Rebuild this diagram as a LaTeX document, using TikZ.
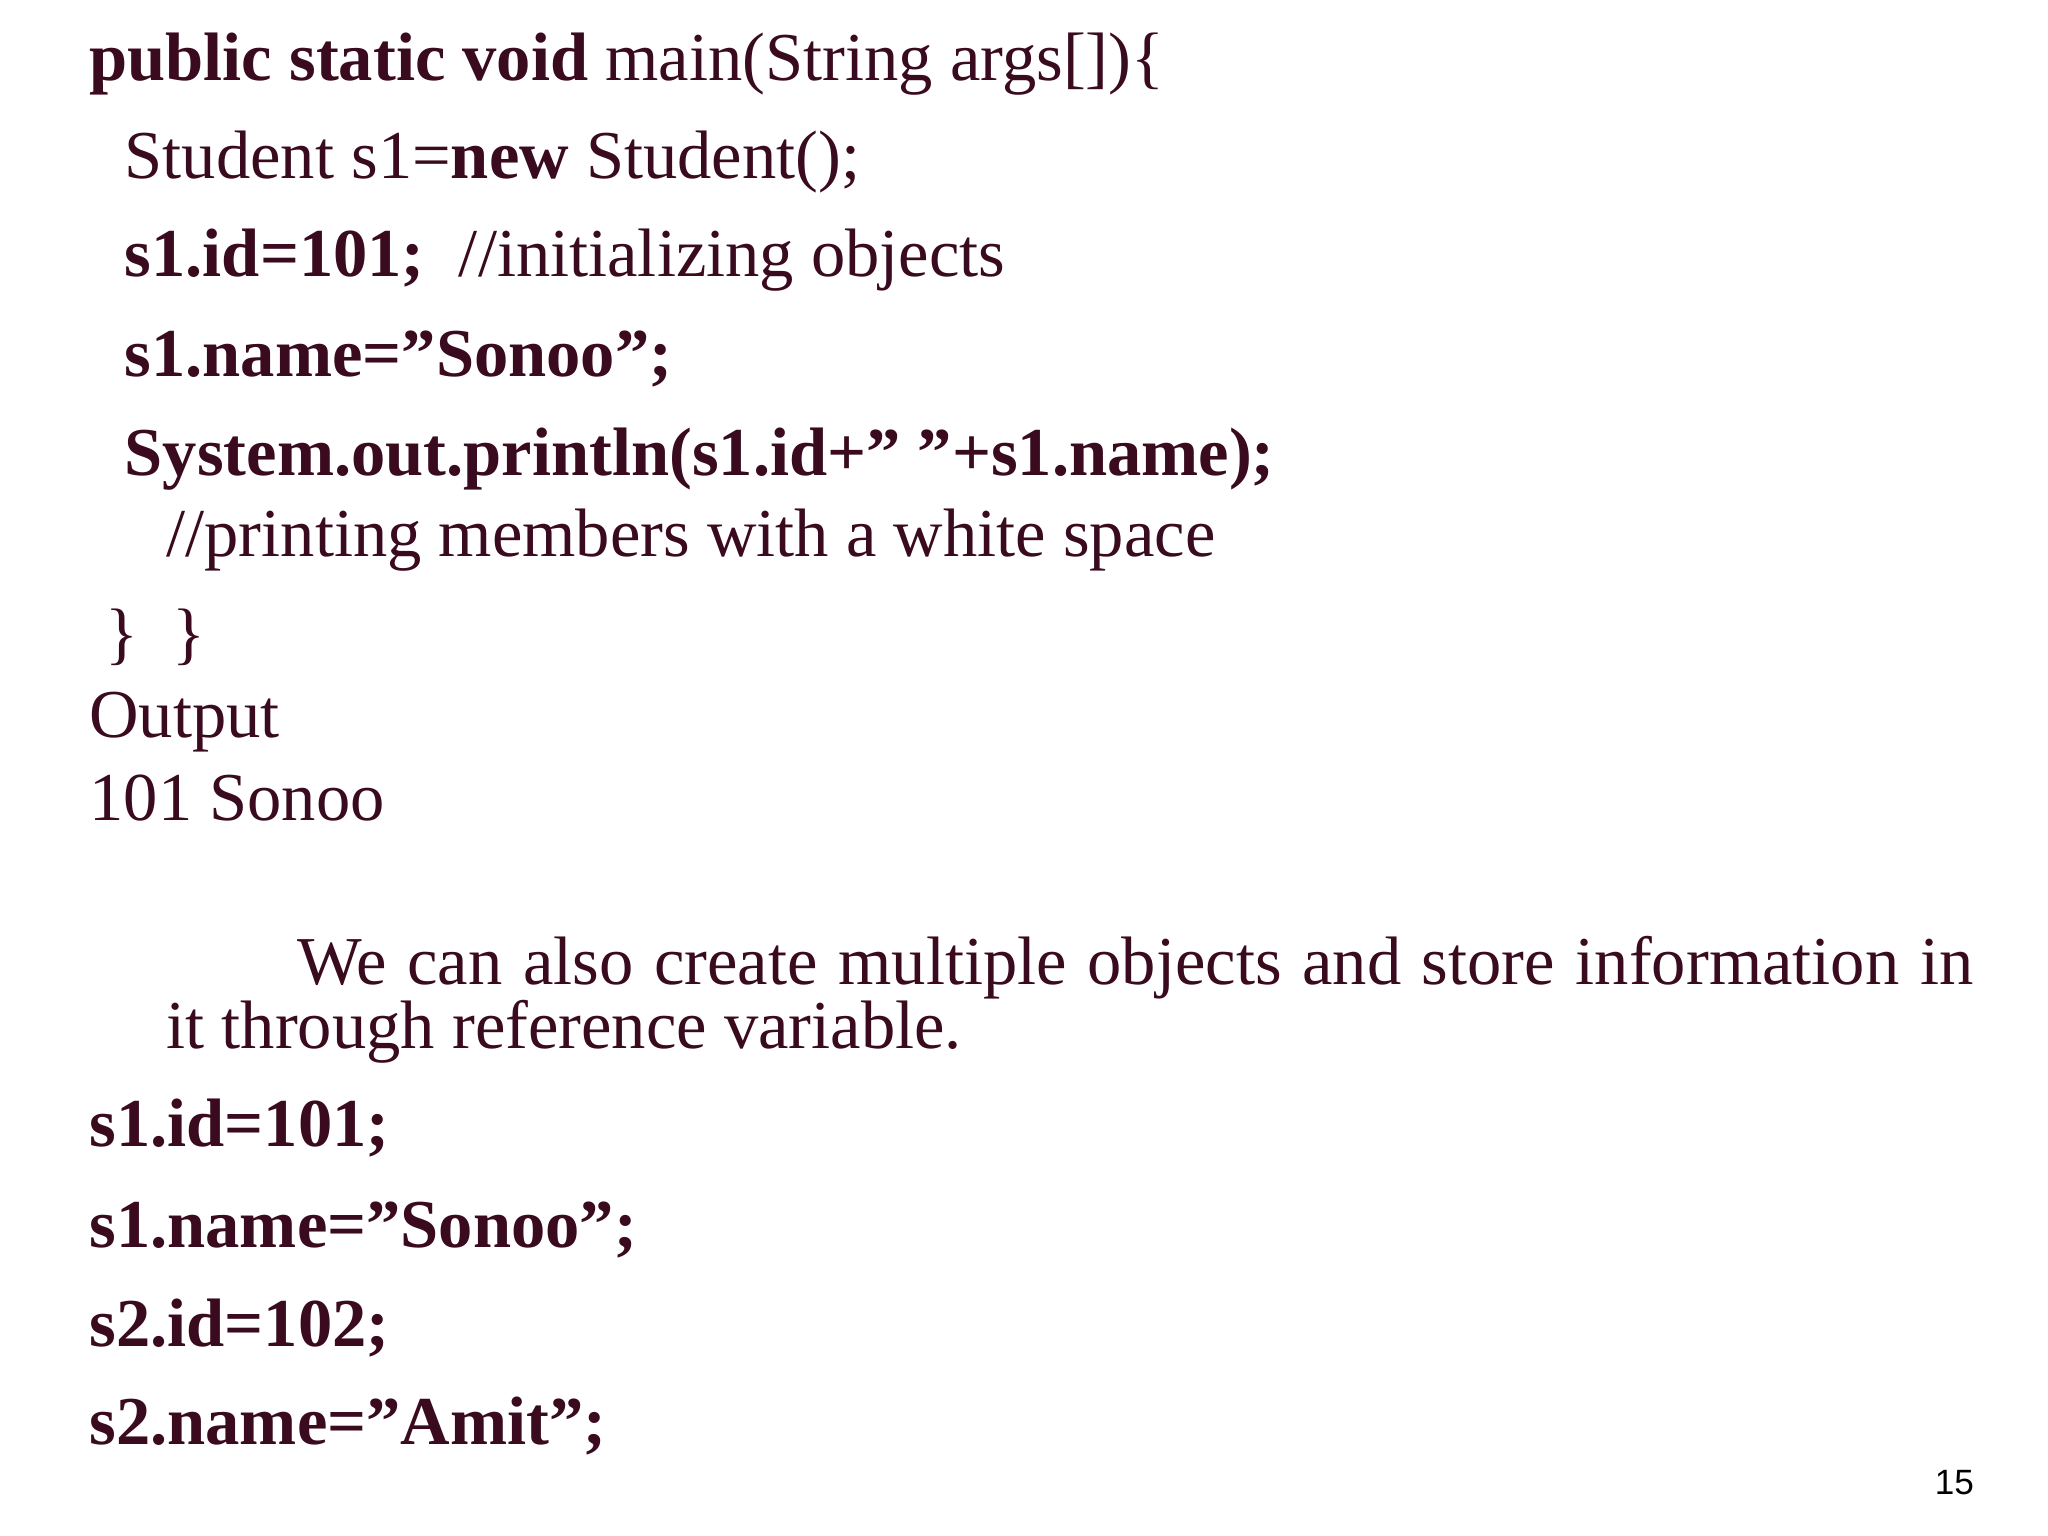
\documentclass[tikz,border=0pt]{standalone}
\usepackage{fontspec}
\setmainfont{Liberation Serif}
\newfontfamily\numfont{Liberation Sans}
\definecolor{ink}{HTML}{3A0A1E}
\newcommand\dq{\char34\relax}
\begin{document}
\begin{tikzpicture}[x=1cm,y=1cm,
  t/.style={anchor=base west,inner sep=0pt,text=ink,font=\fontsize{19.5}{23}\selectfont}]
\useasboundingbox (0,0) rectangle (20.48,15.36);
\fill[white] (0,0) rectangle (20.48,15.36);
\node[t] (l1) at (0.888,14.55) {\textbf{public static void} main(String args[])\{};
\node[t] (l2) at (1.241,13.571) {Student s1=\textbf{new} Student();};
\node[t] (l3) at (1.241,12.591) {\textbf{s1.id=101;}\ \ //initializing objects};
\node[t] (l4) at (1.241,11.599) {\textbf{s1.name=\dq Sonoo\dq;}};
\node[t] (l5) at (1.241,10.606) {\textbf{System.out.println(s1.id+\dq\ \dq+s1.name);}};
\node[t] (l6) at (1.659,9.796) {//printing members with a white space};
\node[t] (l7) at (1.045,8.791) {\}\ \ \}};
\node[t] (o1) at (0.888,7.981) {Output};
\node[t] (o2) at (0.888,7.158) {101 Sonoo};
\node[t] (p1) at (2.965,5.513) {\makebox[16.76cm][s]{We can also create multiple objects and store information in}};
\node[t] (p2) at (1.659,4.873) {it through reference variable.};
\node[t] (b1) at (0.888,3.893) {\textbf{s1.id=101;}};
\node[t] (b2) at (0.888,2.888) {\textbf{s1.name=\dq Sonoo\dq;}};
\node[t] (b3) at (0.888,1.895) {\textbf{s2.id=102;}};
\node[t] (b4) at (0.888,0.916) {\textbf{s2.name=\dq Amit\dq;}};
\node[anchor=base east,inner sep=0pt,font=\numfont\fontsize{10}{12}\selectfont] (pg) at (19.747,0.419) {15};
\end{tikzpicture}
\end{document}
